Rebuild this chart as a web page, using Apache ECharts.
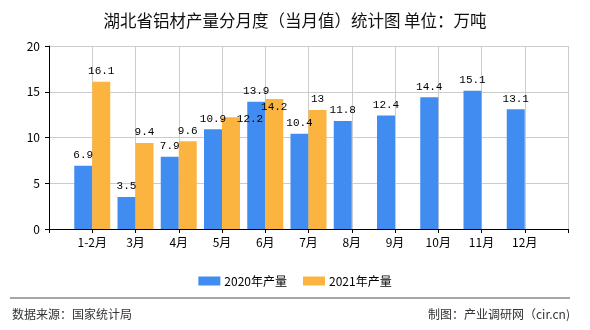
<!DOCTYPE html>
<html>
<head>
<meta charset="utf-8">
<script src="https://cdn.jsdelivr.net/npm/echarts@6/dist/echarts.min.js"></script>
<style>html,body{margin:0;padding:0;background:#fff;}#c{width:590px;height:330px;}</style>
</head>
<body>
<div id="c"></div>
<script>
const categories = ['1-2月','3月','4月','5月','6月','7月','8月','9月','10月','11月','12月'];
const values2020 = [6.9, 3.5, 7.9, 10.9, 13.9, 10.4, 11.8, 12.4, 14.4, 15.1, 13.1];
const values2021 = [16.1, 9.4, 9.6, 12.2, 14.2, 13, null, null, null, null, null];
const yTicks = [0, 5, 10, 15, 20];
const seriesNames = ['2020年产量', '2021年产量'];

// label collision adjustments as in the reference (style only, keyed by category index)
const labelOffsets2021 = { 3: [19, 12], 4: [0, 19] };

const cjk = '"Noto Sans CJK SC", sans-serif';
const mono = '"Liberation Mono", "DejaVu Sans Mono", monospace';

const padCats = ['', ...categories, ''];
const padVals = (arr, offsets) => [null, ...arr.map((v, i) =>
  offsets && offsets[i] ? { value: v, label: { offset: offsets[i] } } : v), null];

const chart = echarts.init(document.getElementById('c'));
const labelCfg = {
  show: true, position: 'top', distance: 5, color: '#000',
  fontFamily: mono, fontSize: 11,
  formatter: p => p.value == null ? '' : String(p.value)
};
chart.setOption({
  animation: false,
  title: {
    text: '湖北省铝材产量分月度（当月值）统计图 单位：万吨',
    left: 'center', top: 7,
    textStyle: { fontFamily: cjk, fontSize: 16.5, fontWeight: 'normal', color: '#111' }
  },
  grid: { left: 49, right: 22, top: 46, bottom: 101, containLabel: false },
  legend: {
    data: seriesNames, left: 'center', top: 270,
    itemWidth: 22, itemHeight: 9, itemGap: 16,
    icon: 'rect',
    textStyle: { fontFamily: cjk, fontSize: 12, color: '#000', padding: [0, 0, 0, -1] }
  },
  xAxis: {
    type: 'category', data: padCats, boundaryGap: false,
    axisLine: { lineStyle: { color: '#000', width: 1 } },
    axisTick: { show: true, length: 4, lineStyle: { color: '#000' } },
    axisLabel: { margin: 7, color: '#000', fontFamily: cjk, fontSize: 12, interval: 0 },
    splitLine: { show: true, lineStyle: { color: '#cccccc', width: 1 } }
  },
  yAxis: {
    type: 'value', min: yTicks[0], max: yTicks[yTicks.length - 1], interval: 5,
    axisLine: { show: true, lineStyle: { color: '#000', width: 1 } },
    axisTick: { show: true, length: 4, lineStyle: { color: '#000' } },
    axisLabel: { margin: 9, color: '#000', fontFamily: cjk, fontSize: 12 },
    splitLine: { show: true, lineStyle: { color: '#cccccc', width: 1 } }
  },
  series: [
    { name: seriesNames[0], type: 'bar', data: padVals(values2020), barWidth: 18, barGap: '0%',
      itemStyle: { color: '#418cf0' }, label: labelCfg },
    { name: seriesNames[1], type: 'bar', data: padVals(values2021, labelOffsets2021), barWidth: 18, barGap: '0%',
      itemStyle: { color: '#fcb441' }, label: labelCfg }
  ],
  graphic: [
    { type: 'line', shape: { x1: 10, y1: 298, x2: 570, y2: 298 },
      style: { stroke: '#888', lineWidth: 1.5 } },
    { type: 'text', left: 12, top: 308,
      style: { text: '数据来源：国家统计局', font: '12px ' + cjk, fill: '#333' } },
    { type: 'text', right: 20, top: 308,
      style: { text: '制图：产业调研网（cir.cn)', font: '12px ' + cjk, fill: '#333' } }
  ]
});
</script>
</body>
</html>
